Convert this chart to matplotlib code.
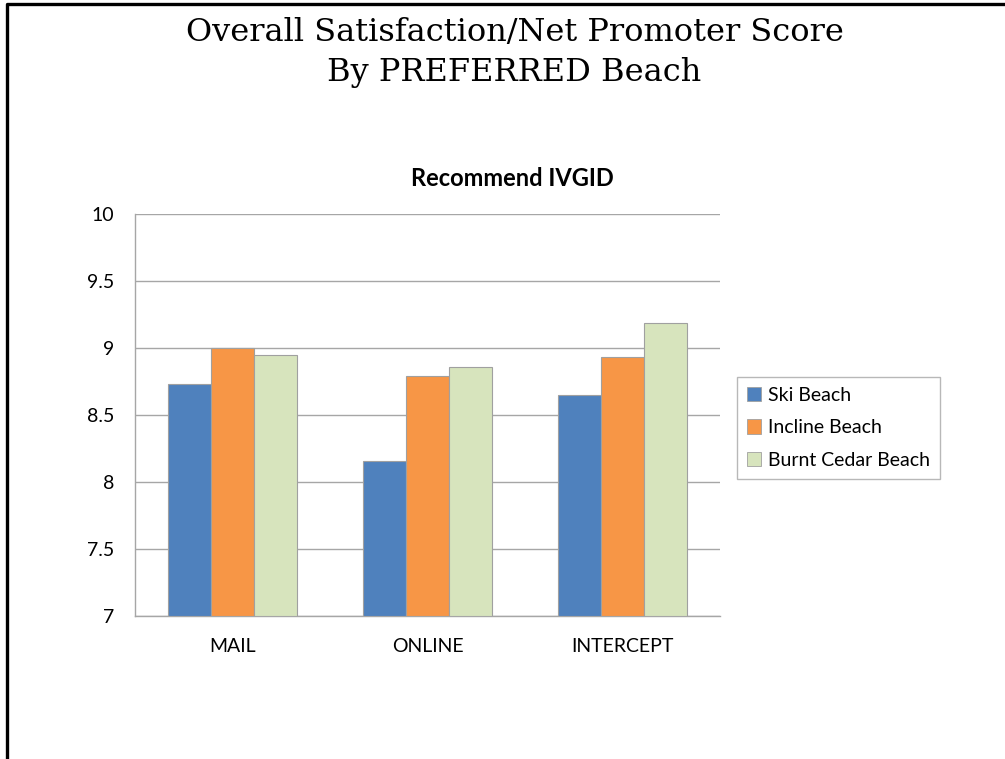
import numpy as np
import matplotlib
matplotlib.use("Agg")
import matplotlib.pyplot as plt
from matplotlib.lines import Line2D
from matplotlib.patches import Patch


CATEGORIES = ["MAIL", "ONLINE", "INTERCEPT"]
SERIES = ["Ski Beach", "Incline Beach", "Burnt Cedar Beach"]
SKI = [8.73, 8.16, 8.65]
INCLINE = [9.00, 8.79, 8.93]
BURNT_CEDAR = [8.95, 8.86, 9.19]

COLORS = ["#4F81BD", "#F79646", "#D7E4BD"]
GRID_COLOR = "#A6A6A6"
SANS = ["Lato", "DejaVu Sans"]

plt.rcParams["font.family"] = SANS

fig = plt.figure(figsize=(10.05, 7.59), dpi=100)

# slide frame (top and left edges only are visible)
fig.add_artist(Line2D([7 / 1005, 7 / 1005, 1.0], [0.0, 1 - 4 / 759, 1 - 4 / 759],
                      transform=fig.transFigure, color="black", linewidth=2.4))

fig.text(0.512, 1 - 33 / 759, "Overall Satisfaction/Net Promoter Score",
         family="DejaVu Serif", fontsize=23, ha="center", va="center")
fig.text(0.512, 1 - 73 / 759, "By PREFERRED Beach",
         family="DejaVu Serif", fontsize=23, ha="center", va="center")

fig.text(512 / 1005, 1 - 178 / 759, "Recommend IVGID",
         fontsize=17, fontweight="bold", ha="center", va="center")

ax = fig.add_axes([135 / 1005, 143 / 759, 585 / 1005, 402 / 759])

x = np.arange(len(CATEGORIES))
width = 0.222
for i, (name, values) in enumerate(zip(SERIES, [SKI, INCLINE, BURNT_CEDAR])):
    ax.bar(x + (i - 1) * width, np.array(values) - 7, width, bottom=7,
           color=COLORS[i], edgecolor="#A0A0A0", linewidth=0.8, label=name, zorder=3)

ax.set_xlim(-0.5, 2.5)
ax.set_ylim(7, 10)
ax.set_yticks([7, 7.5, 8, 8.5, 9, 9.5, 10])
ax.set_yticklabels(["7", "7.5", "8", "8.5", "9", "9.5", "10"])
ax.set_xticks(x)
ax.set_xticklabels(CATEGORIES)
ax.tick_params(axis="both", length=0, labelsize=14, colors="black")
ax.tick_params(axis="y", pad=15)
ax.tick_params(axis="x", pad=16)
ax.grid(axis="y", color=GRID_COLOR, linewidth=1.0, zorder=0)
for side in ["top", "right"]:
    ax.spines[side].set_visible(False)
for side in ["left", "bottom"]:
    ax.spines[side].set_color(GRID_COLOR)
    ax.spines[side].set_linewidth(1.0)

handles = [Patch(facecolor=c, edgecolor="#A0A0A0", linewidth=0.6) for c in COLORS]
leg = fig.legend(handles, SERIES, loc="upper left",
                 bbox_to_anchor=(737 / 1005, 1 - 377 / 759),
                 frameon=True, fancybox=False, fontsize=14,
                 handlelength=0.75, handleheight=0.75, handletextpad=0.35,
                 labelspacing=0.8, borderpad=0.5, borderaxespad=0)
leg.get_frame().set_edgecolor(GRID_COLOR)
leg.get_frame().set_linewidth(1.0)

fig.savefig("out.png", dpi=100)
